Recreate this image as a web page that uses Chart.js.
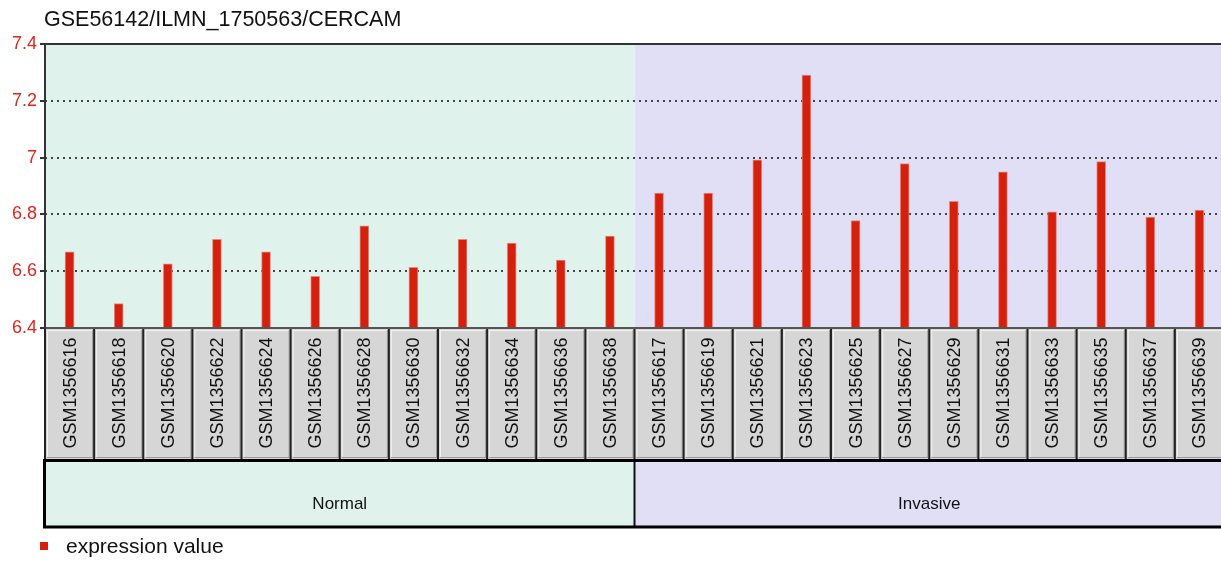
<!DOCTYPE html>
<html>
<head>
<meta charset="utf-8">
<script src="https://cdn.jsdelivr.net/npm/chart.js@4"></script>
<style>
  html, body { margin: 0; padding: 0; background: #fff; overflow: hidden; }
  #wrap { width: 1224px; height: 561px; position: relative; }
</style>
</head>
<body>
<div id="wrap"><canvas id="exprChart"></canvas></div>
<script>
const chartTitle = "GSE56142/ILMN_1750563/CERCAM";
const samples = [
  "GSM1356616", "GSM1356618", "GSM1356620", "GSM1356622", "GSM1356624", "GSM1356626",
  "GSM1356628", "GSM1356630", "GSM1356632", "GSM1356634", "GSM1356636", "GSM1356638",
  "GSM1356617", "GSM1356619", "GSM1356621", "GSM1356623", "GSM1356625", "GSM1356627",
  "GSM1356629", "GSM1356631", "GSM1356633", "GSM1356635", "GSM1356637", "GSM1356639",
];
const expression = [
  6.668, 6.486, 6.626, 6.712, 6.668, 6.582, 6.760, 6.614, 6.712, 6.699, 6.639, 6.724,
  6.875, 6.875, 6.992, 7.291, 6.778, 6.979, 6.846, 6.950, 6.809, 6.986, 6.791, 6.815,
];
const groups = ["Normal", "Invasive"];
const groupSizes = [12, 12];
const groupColors = ["#dff3ec", "#e0dff5"];
const yTicks = [6.4, 6.6, 6.8, 7, 7.2, 7.4];
const legendLabel = "expression value";

const BAR_RED = "#d4200c";

// backgrounds, label boxes, group strip, title and legend
const decorPlugin = {
  id: "decor",
  beforeDraw(chart) {
    const { ctx, chartArea: a, scales: { x } } = chart;
    const half = (x.getPixelForValue(1) - x.getPixelForValue(0)) / 2;
    let start = 0;
    ctx.save();
    groupSizes.forEach((n, g) => {
      const l = x.getPixelForValue(start) - half;
      const r = x.getPixelForValue(start + n - 1) + half;
      ctx.fillStyle = groupColors[g];
      ctx.fillRect(l, a.top, r - l, a.bottom - a.top);
      start += n;
    });
    ctx.restore();
  },
  afterDraw(chart) {
    const { ctx, chartArea: a, scales: { x } } = chart;
    const half = (x.getPixelForValue(1) - x.getPixelForValue(0)) / 2;
    const boxTop = a.bottom;
    const boxBottom = 460;
    const stripBottom = 527;

    ctx.save();
    // sample label boxes
    samples.forEach((s, i) => {
      const l = x.getPixelForValue(i) - half;
      const w = half * 2;
      ctx.fillStyle = "#d6d6d6";
      ctx.fillRect(l, boxTop, w, boxBottom - boxTop);
      ctx.fillStyle = "#f2f2f2";
      ctx.fillRect(l + 2, boxTop + 2, w - 3, 1);
      ctx.fillRect(l + 2, boxTop + 2, 1, boxBottom - boxTop - 4);
      ctx.fillStyle = "#9a9a9a";
      ctx.fillRect(l + 2, boxBottom - 3, w - 3, 1);
      ctx.fillRect(l + w - 2, boxTop + 2, 1, boxBottom - boxTop - 4);
      ctx.fillStyle = "#222";
      ctx.fillRect(l - 1, boxTop, 2, boxBottom - boxTop);

      ctx.save();
      ctx.translate(x.getPixelForValue(i), (boxTop + boxBottom) / 2 - 1);
      ctx.rotate(-Math.PI / 2);
      ctx.fillStyle = "#111";
      ctx.font = "18px 'Liberation Sans', Arial, sans-serif";
      ctx.textAlign = "center";
      ctx.textBaseline = "middle";
      ctx.fillText(s, 0, 1);
      ctx.restore();
    });
    ctx.fillStyle = "#555";
    ctx.fillRect(a.left, boxTop - 1, a.right - a.left, 2);

    // group strip
    let start = 0;
    groupSizes.forEach((n, g) => {
      const l = x.getPixelForValue(start) - half;
      const r = x.getPixelForValue(start + n - 1) + half;
      ctx.fillStyle = groupColors[g];
      ctx.fillRect(l, boxBottom, r - l, stripBottom - boxBottom);
      ctx.fillStyle = "#111";
      ctx.font = "17px 'Liberation Sans Narrow', 'Liberation Sans', Arial, sans-serif";
      ctx.textAlign = "center";
      ctx.textBaseline = "middle";
      ctx.fillText(groups[g], (l + r) / 2, 504);
      if (g > 0) ctx.fillRect(l - 1, boxBottom, 2, stripBottom - boxBottom);
      start += n;
    });
    ctx.strokeStyle = "#000";
    ctx.lineWidth = 3;
    ctx.beginPath();
    ctx.moveTo(a.right + 5, boxBottom + 0.5);
    ctx.lineTo(a.left - 0.5, boxBottom + 0.5);
    ctx.lineTo(a.left - 0.5, stripBottom);
    ctx.lineTo(a.right + 5, stripBottom);
    ctx.stroke();

    // plot frame
    ctx.fillStyle = "#333";
    ctx.fillRect(a.left - 1, a.top - 1, a.right - a.left + 1, 2);
    ctx.fillRect(a.left - 1, a.top - 1, 2, a.bottom - a.top + 2);

    // title
    ctx.fillStyle = "#111";
    ctx.font = "21.5px 'Liberation Sans', Arial, sans-serif";
    ctx.textAlign = "left";
    ctx.textBaseline = "alphabetic";
    ctx.fillText(chartTitle, 44, 26);

    // legend
    ctx.fillStyle = BAR_RED;
    ctx.fillRect(40, 542, 8, 8);
    ctx.fillStyle = "#111";
    ctx.font = "21px 'Liberation Sans', Arial, sans-serif";
    ctx.textBaseline = "middle";
    ctx.fillText(legendLabel, 66, 547);
    ctx.restore();
  },
};

new Chart(document.getElementById("exprChart"), {
  type: "bar",
  data: {
    labels: samples,
    datasets: [
      {
        label: legendLabel,
        data: expression,
        backgroundColor: BAR_RED,
        borderColor: "#e58a80",
        borderWidth: 1,
        barThickness: 9,
      },
    ],
  },
  options: {
    responsive: true,
    maintainAspectRatio: false,
    animation: false,
    layout: { padding: { top: 44, left: 0, right: 0, bottom: 0 } },
    plugins: {
      legend: { display: false },
      title: { display: false },
      tooltip: { enabled: false },
    },
    scales: {
      x: {
        grid: { display: false },
        ticks: { display: false },
        border: { display: false },
        afterFit: (scale) => { scale.height = 233; },
      },
      y: {
        min: 6.4,
        max: 7.4,
        afterBuildTicks: (scale) => { scale.ticks = yTicks.map((v) => ({ value: v })); },
        ticks: {
          color: "#e3241b",
          font: { family: "'Liberation Sans', Arial, sans-serif", size: 18 },
          padding: 3,
          callback: (v) => String(Math.round(v * 10) / 10),
        },
        grid: {
          color: (c) => (c.tick && (c.tick.value === 6.4 || c.tick.value === 7.4) ? "rgba(0,0,0,0)" : "#444"),
          lineWidth: 2,
          tickLength: 5,
          tickColor: "#333",
        },
        border: { display: false, dash: [2, 4] },
        afterFit: (scale) => { scale.width = 45; },
      },
    },
  },
  plugins: [decorPlugin],
});
</script>
</body>
</html>
